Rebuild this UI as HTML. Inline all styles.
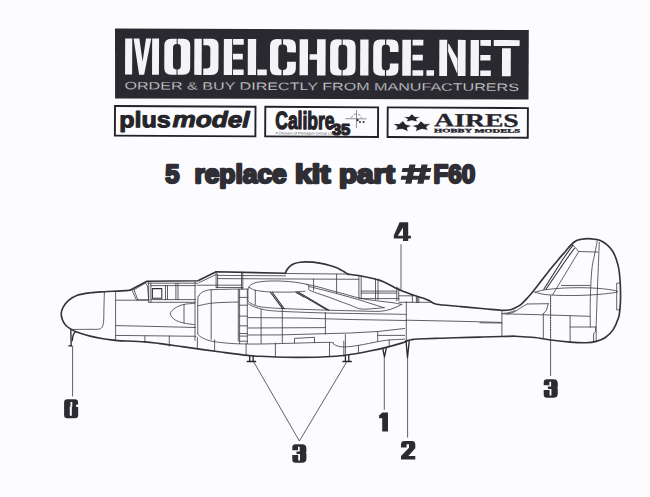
<!DOCTYPE html>
<html><head><meta charset="utf-8">
<style>
html,body{margin:0;padding:0;background:#fcfcfe;}
body{width:650px;height:497px;overflow:hidden;position:relative;font-family:"Liberation Sans",sans-serif;}
svg{position:absolute;left:0;top:0;}
</style></head>
<body>
<svg width="650" height="497" viewBox="0 0 650 497">
<rect x="0" y="0" width="650" height="497" fill="#fcfcfe"/>
<!-- banner -->
<polygon points="115,28.6 528.8,30.1 528.5,99.6 115.1,98.5" fill="#2b2930"/>
<g transform="rotate(0.24 322 57)" fill="#f4f4f7">
  <!-- M -->
  <rect x="125.1" y="39.3" width="7.1" height="36.1"/>
  <polygon points="133.5,39.3 139.3,39.3 142.6,62.5 145.9,39.3 151.2,39.3 144.2,75.4 139.2,75.4"/>
  <rect x="152.1" y="39.3" width="6.9" height="36.1"/>
  <!-- O -->
  <path d="M176.6,39.3 H171.3 Q164.3,39.3 164.3,46.3 V68.4 Q164.3,75.4 171.3,75.4 H176.6 V70 Q173,70 173,66 V48.7 Q173,44.6 176.6,44.6 Z"/>
  <path d="M177.6,39.3 H183.2 Q190.2,39.3 190.2,46.3 V68.4 Q190.2,75.4 183.2,75.4 H177.6 V70 Q180.9,70 180.9,66 V48.7 Q180.9,44.6 177.6,44.6 Z"/>
  <!-- D -->
  <rect x="194.3" y="39.3" width="7.4" height="36.1"/>
  <path d="M203.3,39.3 H211.5 Q218.5,39.3 218.5,46.3 V68.4 Q218.5,75.4 211.5,75.4 H203.3 V69 H207 Q210.3,69 210.3,65.5 V49.2 Q210.3,45.7 207,45.7 H203.3 Z"/>
  <!-- E -->
  <rect x="223.8" y="39.3" width="8.3" height="36.1"/>
  <rect x="233" y="39.3" width="10.7" height="5.7"/>
  <rect x="233" y="54.2" width="9.8" height="5.6"/>
  <rect x="233" y="69.8" width="10.7" height="5.6"/>
  <!-- L -->
  <rect x="247.8" y="39.3" width="8.3" height="36.1"/>
  <rect x="257.3" y="69.8" width="9.5" height="5.6"/>
  <!-- C -->
  <path d="M281.6,39.3 H277 Q270,39.3 270,46.3 V68.4 Q270,75.4 277,75.4 H281.6 V70.1 Q278.3,70.1 278.3,66 V48.7 Q278.3,44.6 281.6,44.6 Z"/>
  <path d="M283,39.3 H288.9 Q295.9,39.3 295.9,46.3 V52.5 H287.1 V48.5 Q287.1,44.6 283,44.6 Z"/>
  <path d="M283,75.4 H288.9 Q295.9,75.4 295.9,68.4 V61.8 H287.1 V66.2 Q287.1,70.1 283,70.1 Z"/>
  <!-- H -->
  <rect x="299.6" y="39.3" width="8.4" height="36.1"/>
  <rect x="309.6" y="54.2" width="8" height="5.6"/>
  <rect x="317" y="39.3" width="8.6" height="36.1"/>
  <!-- O -->
  <path d="M341.6,39.3 H337.1 Q330.1,39.3 330.1,46.3 V68.4 Q330.1,75.4 337.1,75.4 H341.6 V70.1 Q338.4,70.1 338.4,66 V48.7 Q338.4,44.6 341.6,44.6 Z"/>
  <path d="M342.6,39.3 H348.6 Q355.6,39.3 355.6,46.3 V68.4 Q355.6,75.4 348.6,75.4 H342.6 V70.1 Q347.2,70.1 347.2,66 V48.7 Q347.2,44.6 342.6,44.6 Z"/>
  <!-- I -->
  <rect x="360.2" y="39.3" width="8.3" height="36.1"/>
  <!-- C -->
  <path d="M385,39.3 H380.2 Q373.2,39.3 373.2,46.3 V68.4 Q373.2,75.4 380.2,75.4 H385 V70.1 Q381.8,70.1 381.8,66 V48.7 Q381.8,44.6 385,44.6 Z"/>
  <path d="M386.2,39.3 H391.5 Q398.5,39.3 398.5,46.3 V51.8 H389.9 V48.5 Q389.9,44.6 386.2,44.6 Z"/>
  <path d="M386.2,75.4 H391.5 Q398.5,75.4 398.5,68.4 V63.1 H389.9 V66.2 Q389.9,70.1 386.2,70.1 Z"/>
  <!-- E -->
  <rect x="402.3" y="39.3" width="8.6" height="36.1"/>
  <rect x="412.5" y="39.3" width="10.8" height="5.7"/>
  <rect x="412.5" y="54.4" width="10.3" height="5.6"/>
  <rect x="412.5" y="69.8" width="10.8" height="5.6"/>
  <!-- . -->
  <rect x="426.5" y="69.8" width="7.6" height="5.6"/>
  <!-- N -->
  <rect x="439.3" y="39.3" width="7.8" height="36.1"/>
  <polygon points="448.1,43.1 448.8,43.1 457.5,58.5 457.5,72.3 456.8,72.3 448.1,51.3"/>
  <rect x="457.8" y="39.3" width="7.8" height="36.1"/>
  <!-- E -->
  <rect x="470.6" y="39.3" width="8.3" height="36.1"/>
  <rect x="480.3" y="39.3" width="10.6" height="5.9"/>
  <rect x="480.3" y="54.3" width="10.2" height="5.6"/>
  <rect x="480.3" y="69.8" width="10.6" height="5.6"/>
  <!-- T -->
  <rect x="493.7" y="39.3" width="25.9" height="5.9"/>
  <rect x="502" y="47.4" width="8.8" height="28"/>
</g>
<g transform="rotate(0.24 322 57)">
<text x="124.6" y="90.2" font-family="Liberation Sans" font-size="10.8" fill="#eeeef2" stroke="#2b2930" stroke-width="0.3" textLength="394.5" lengthAdjust="spacingAndGlyphs">ORDER &amp; BUY DIRECTLY FROM MANUFACTURERS</text>
</g>

<!-- logo boxes -->
<g transform="rotate(0.3 322 121)">
<g fill="none" stroke="#232127" stroke-width="1.9">
<rect x="114.95" y="107.05" width="140.5" height="29.65"/>
<rect x="265.25" y="107.05" width="112.8" height="29.65"/>
<rect x="387.65" y="107.05" width="140.2" height="29.65"/>
</g>
<g fill="#26242a" stroke="#26242a" stroke-width="1.0" stroke-linejoin="round" font-family="Liberation Sans" font-weight="bold" font-size="22.3">
<text x="119.3" y="128.2" textLength="51.5" lengthAdjust="spacingAndGlyphs">plus</text>
<text x="172.5" y="127.7" font-style="italic" textLength="77" lengthAdjust="spacingAndGlyphs">model</text>
</g>
<g fill="#26242a" stroke="#26242a" stroke-width="1.3" stroke-linejoin="round" font-family="Liberation Sans" font-weight="bold">
<text x="275.4" y="129" font-size="24.5" textLength="59" lengthAdjust="spacingAndGlyphs">Calibre</text>
<text x="332" y="134.6" font-size="15.5" textLength="18.4" lengthAdjust="spacingAndGlyphs">35</text>
</g>
<text x="275.5" y="134.6" font-family="Liberation Sans" font-size="3.6" fill="#55545a" textLength="58" lengthAdjust="spacingAndGlyphs">A Division of Pentagon Group Ltd</text>
<g fill="none" stroke="#4a4950" stroke-width="0.6">
<path d="M351.5,118 A5.2,5.2 0 0 1 361.7,118" stroke-dasharray="3 1.2"/>
<path d="M356.5,110 V128 M345.5,118.6 H366.5"/>
</g>
<g fill="#2a292e"><circle cx="357.6" cy="120" r="1.1"/><circle cx="360" cy="121.8" r="1"/><circle cx="363.6" cy="121.8" r="1"/></g>
<g fill="#26242a" stroke="#fcfcfe" stroke-width="0.9" stroke-linejoin="miter">
<polygon points="403.01,120.13 405.83,123.90 412.90,125.20 407.46,127.33 408.28,131.24 402.10,128.78 395.54,129.90 397.15,126.25 392.28,123.03 399.46,123.23"/>
<polygon points="420.79,120.13 424.34,123.23 431.52,123.03 426.65,126.25 428.26,129.90 421.70,128.78 415.52,131.24 416.34,127.33 410.90,125.20 417.97,123.90"/>
<polygon points="411.90,113.30 414.72,116.04 421.03,116.48 416.47,118.61 417.54,121.62 411.90,120.20 406.26,121.62 407.33,118.61 402.77,116.48 409.08,116.04"/>
</g>
<g fill="#26242a" font-family="Liberation Serif" font-weight="bold">
<text x="434.2" y="125.7" font-size="18.8" stroke="#26242a" stroke-width="0.3" textLength="84.6" lengthAdjust="spacingAndGlyphs">AIRES</text>
<text x="434.2" y="131.6" font-size="5.2" stroke="#26242a" stroke-width="0.35" textLength="86" lengthAdjust="spacingAndGlyphs">HOBBY MODELS</text>
</g>
</g>

<!-- heading -->
<g transform="translate(0,183.3) scale(1,1.05) translate(0,-183.3)" fill="#302e35" stroke="#302e35" stroke-width="2.2" stroke-linejoin="round" font-family="Liberation Sans" font-weight="bold" font-size="24.5">
<text x="165.3" y="183.1" textLength="14.2" lengthAdjust="spacingAndGlyphs">5</text>
<text x="194.4" y="183.1" textLength="92.4" lengthAdjust="spacingAndGlyphs">replace</text>
<text x="294.9" y="183.1" textLength="35.6" lengthAdjust="spacingAndGlyphs">kit</text>
<text x="339" y="183.1" textLength="55.8" lengthAdjust="spacingAndGlyphs">part</text>
<text x="433.5" y="183.1" textLength="41.8" lengthAdjust="spacingAndGlyphs">F60</text>
</g>
<path fill="#302e35" d="M402.6,168 H431.4 L430.5,172 H401.7 Z M401.5,175.8 H430.3 L429.4,179.8 H400.6 Z M409.4,164.6 H415.6 L411.4,183.8 H405.2 Z M421.5,164.6 H427.7 L423.5,183.8 H417.3 Z"/>

<g fill="none" stroke-linecap="round" stroke-linejoin="round">
<g stroke="#39383d" stroke-width="0.8">
<path d="M285.5,273.5 L347.8,274.1"/>
<path d="M104.4,291.8 C104.3,294.8 104.0,305.3 103.9,310.0 C103.8,314.7 103.9,317.3 103.7,320.0 C103.5,322.7 103.3,324.8 102.6,326.3 C101.8,327.8 101.3,328.6 99.2,329.1 C97.1,329.6 94.7,329.2 90.0,329.3 C85.3,329.4 74.1,329.4 70.9,329.4"/>
<path d="M115.6,291.2 V340.4"/>
<path d="M116.0,300.2 H148.7"/>
<path d="M116.0,325.6 L160.0,326.6 L195.5,327.5"/>
<path d="M116.0,335.4 L170.0,336.0 L196.0,336.3"/>
<path d="M144.9,336.0 V341.9"/>
<path d="M169.3,336.1 V346.2"/>
<path d="M132.1,290.4 L136.4,299.8 L148.7,299.8"/>
<path d="M133.9,289.8 L137.6,299.0"/>
<path d="M133.9,289.8 L145.4,283.1 L147.5,285.8 L148.7,299.8"/>
<path d="M148.7,281.3 V302.3"/>
<path d="M150.9,283.0 V302.3"/>
<path d="M148.7,302.3 H195.5"/>
<path d="M150.9,299.6 H195.5"/>
<path d="M147.5,283.2 L197.5,283.2"/>
<path d="M150.9,285.6 L196.0,285.6"/>
<path d="M165.5,285.6 V299.6"/>
<path d="M167.5,285.6 V299.6"/>
<path d="M175.9,283.2 V299.6"/>
<path d="M178.0,283.2 V299.6"/>
<path d="M199.0,282.6 L216.4,274.4"/>
<path d="M216.1,272.0 V287.8"/>
<path d="M217.6,274.0 V287.8"/>
<path d="M217.6,275.4 L285.5,275.8"/>
<path d="M217.6,278.6 L300.0,279.0 L358.8,279.3"/>
<path d="M197.5,285.2 H241.5"/>
<path d="M216.4,287.5 H242.8"/>
<path d="M241.5,272.2 V289.1"/>
<path d="M242.8,272.2 V289.1"/>
<path d="M195.0,281.3 V340.5"/>
<path d="M197.8,333.5 C197.8,327.9 197.6,306.2 197.8,300.0 C198.0,293.8 198.6,297.1 199.0,296.0 C199.4,294.9 199.6,294.4 200.3,293.6 C201.1,292.9 202.4,292.0 203.5,291.5 C204.6,291.0 205.4,290.7 206.7,290.4 C208.0,290.1 208.1,289.9 211.2,289.7 C214.2,289.5 220.5,289.4 225.0,289.3 C229.5,289.2 236.1,289.1 238.3,289.1"/>
<path d="M197.8,333.6 C197.9,333.9 197.7,334.5 198.6,335.3 C199.5,336.1 201.4,337.4 203.5,338.4 C205.6,339.4 208.0,340.4 211.2,341.1 C214.4,341.8 218.4,342.2 222.8,342.7 C227.2,343.1 231.2,343.6 237.4,343.8 C243.6,344.0 251.2,344.1 260.0,344.0 C268.8,343.9 278.4,343.6 290.0,343.3 C301.6,343.0 322.3,342.3 329.5,342.4 C336.7,342.4 331.8,343.0 333.0,343.6 C334.2,344.2 335.1,345.2 337.0,345.8 C338.9,346.4 341.0,347.0 344.6,346.9 C348.2,346.8 352.9,346.3 358.5,345.4 C364.1,344.5 373.4,342.4 378.5,341.5 C383.6,340.6 384.8,340.4 389.2,340.0 C393.6,339.6 402.0,339.3 404.6,339.2"/>
<path d="M197.8,305.8 C200.0,305.4 206.7,303.8 211.2,303.2 C215.7,302.6 220.5,302.6 225.0,302.4 C229.5,302.2 236.1,302.1 238.3,302.0"/>
<path d="M211.2,289.7 V339.3"/>
<path d="M238.3,289.1 V341.0"/>
<path d="M194.3,303.4 C192.5,303.6 186.8,303.7 183.5,304.5 C180.2,305.3 177.0,306.8 174.8,308.3 C172.6,309.8 170.4,311.8 170.4,313.7 C170.4,315.6 172.6,318.1 174.8,319.7 C177.0,321.2 180.2,322.2 183.5,323.0 C186.8,323.8 192.5,324.3 194.3,324.6"/>
<path d="M184.0,304.4 V323.1"/>
<path d="M239.6,289.1 V343.5"/>
<path d="M247.3,289.1 V343.5"/>
<path d="M239.6,289.1 H247.3"/>
<path d="M239.6,297.4 H247.3"/>
<path d="M239.6,305.2 H247.3"/>
<path d="M239.6,316.1 H247.3"/>
<path d="M239.6,325.8 H247.3"/>
<path d="M239.6,333.5 H247.3"/>
<path d="M239.6,336.1 H247.3"/>
<path d="M239.6,341.2 H247.3"/>
<path d="M197.4,337.5 V348.2"/>
<path d="M214.6,339.8 V351.0"/>
<path d="M246.1,343.6 V355.0"/>
<path d="M275.4,343.2 V356.8"/>
<path d="M343.8,341.2 V356.2"/>
<path d="M401.8,304.4 C400.2,304.1 395.6,303.1 392.0,302.6 C388.4,302.1 384.2,301.7 380.0,301.2 C375.8,300.7 371.2,300.2 367.0,299.5 C362.8,298.8 359.0,298.0 355.0,297.0 C351.0,296.0 347.2,294.7 343.0,293.6 C338.8,292.5 334.2,291.3 330.0,290.2 C325.8,289.1 321.9,287.8 318.0,286.8 C314.1,285.8 310.3,285.1 306.5,284.3 C302.7,283.5 299.2,282.7 295.0,282.2 C290.8,281.7 286.0,281.3 281.5,281.1 C277.0,280.9 272.1,280.9 268.0,281.1 C263.9,281.3 259.4,281.8 256.6,282.4 C253.8,283.0 252.4,283.8 251.0,284.8 C249.6,285.8 248.9,287.0 248.4,288.2 C247.9,289.4 248.0,290.5 247.9,292.0 C247.8,293.5 247.9,295.5 248.0,297.0 C248.1,298.5 247.5,300.0 248.2,301.2 C248.9,302.4 250.6,303.3 252.3,304.2 C254.0,305.1 256.4,305.9 258.5,306.4 C260.6,306.9 262.6,307.1 264.6,307.3 C266.7,307.6 268.2,307.7 270.8,307.9 C273.4,308.1 274.5,308.1 280.0,308.4 C285.5,308.6 295.7,309.1 304.0,309.4 C312.3,309.7 320.7,309.9 330.0,310.2 C339.3,310.5 351.8,310.8 360.0,311.0 C368.2,311.2 374.3,311.5 379.0,311.3 C383.7,311.1 385.3,310.6 388.0,310.0 C390.7,309.4 392.7,308.5 395.0,307.6 C397.3,306.7 400.7,304.9 401.8,304.4"/>
<path d="M248.1,303.6 C248.8,304.0 250.6,305.3 252.3,306.1 C254.0,306.9 256.4,307.6 258.5,308.2 C260.6,308.8 262.6,309.4 264.6,309.8 C266.7,310.2 268.2,310.4 270.8,310.7 C273.4,310.9 274.5,311.0 280.0,311.3 C285.5,311.6 295.7,312.0 304.0,312.3 C312.3,312.6 320.7,312.9 330.0,313.1 C339.3,313.3 350.8,313.5 360.0,313.6 C369.2,313.8 377.3,313.9 385.0,314.0 C392.7,314.1 402.5,314.3 406.0,314.4"/>
<path d="M248.8,287.2 C249.3,287.5 250.9,288.5 252.0,289.0 C253.1,289.5 253.3,289.8 255.1,290.2 C256.9,290.6 260.2,291.1 263.0,291.4 C265.8,291.7 267.2,291.9 271.7,292.0 C276.2,292.1 284.4,292.2 290.0,292.1 C295.6,292.0 302.5,291.4 305.0,291.2"/>
<path d="M255.3,290.2 V304.4"/>
<path d="M306.5,284.3 C306.8,284.4 307.9,284.5 308.3,285.0 C308.7,285.5 308.6,286.6 308.8,287.5 C309.0,288.4 307.8,289.2 309.7,290.3 C311.6,291.4 316.6,293.0 320.0,294.2 C323.4,295.4 326.7,296.4 330.0,297.6 C333.3,298.8 336.7,300.2 340.0,301.4 C343.3,302.6 347.3,304.0 350.0,305.0 C352.7,306.0 354.2,306.9 356.0,307.6 C357.8,308.3 359.2,308.8 361.0,309.0 C362.8,309.2 364.7,309.2 367.0,309.1 C369.3,309.0 372.1,308.7 375.0,308.5 C377.9,308.3 382.7,307.8 384.2,307.7"/>
<path d="M308.8,286.4 C312.3,287.3 322.3,289.8 330.0,291.8 C337.7,293.8 348.3,296.7 355.0,298.6 C361.7,300.5 365.1,301.8 370.0,303.3 C374.9,304.8 381.8,307.0 384.2,307.7"/>
<path d="M295.7,292.5 L304.0,297.1"/>
<path d="M261.1,309.5 V343.4"/>
<path d="M282.3,308.8 V343.0"/>
<path d="M325.4,312.6 V334.1"/>
<path d="M248.0,317.6 L300.0,318.0 L350.0,319.5 L406.0,320.5"/>
<path d="M248.0,328.0 L325.4,327.6"/>
<path d="M248.0,335.0 L280.0,334.9 L350.0,333.0 L377.7,331.5 L404.6,328.5"/>
<path d="M294.5,343.0 L294.5,338.4 L314.5,337.3 L314.5,342.7"/>
<path d="M329.5,342.4 V355.8"/>
<path d="M313.6,279.2 V290.4"/>
<path d="M336.6,274.3 V293.6"/>
<path d="M358.9,276.0 V297.6"/>
<path d="M361.2,276.2 V297.8"/>
<path d="M375.5,278.6 V299.4"/>
<path d="M378.0,279.2 V299.4"/>
<path d="M396.8,287.0 V300.8"/>
<path d="M398.8,288.0 V300.8"/>
<path d="M412.4,294.8 V302.3"/>
<path d="M416.4,296.2 V302.3"/>
<path d="M361.2,291.1 H396.8"/>
<path d="M361.2,293.1 H396.8"/>
<path d="M399.0,295.8 H413.6"/>
<path d="M399.0,302.3 H431.0"/>
<path d="M358.9,298.6 H399.0"/>
<path d="M417.3,296.8 V302.7"/>
<path d="M418.8,297.3 V302.7"/>
<path d="M406.3,301.8 V340.0"/>
<path d="M406.3,320.2 L460.0,321.3 L501.2,322.4"/>
<path d="M501.9,310.4 V336.0"/>
<path d="M480.0,322.8 L502.0,323.0"/>
<path d="M377.7,331.5 L377.7,341.5"/>
<path d="M377.7,335.4 L404.6,335.4"/>
<path d="M345.4,334.6 V354.4"/>
<path d="M358.5,345.4 V353.0"/>
<path d="M389.2,340.0 V346.9"/>
<path d="M502.7,313.5 C503.8,313.4 506.9,313.1 509.0,312.6 C511.1,312.1 514.0,310.9 515.0,310.6"/>
<path d="M507.0,314.2 C508.3,313.8 512.5,312.7 515.0,311.5 C517.5,310.3 520.0,308.2 522.0,307.0 C524.0,305.8 526.3,304.5 527.2,304.0"/>
<path d="M527.2,304.0 L548.2,303.7"/>
<path d="M502.0,313.8 L543.3,314.8 L589.7,316.3"/>
<path d="M543.3,313.9 V338.2"/>
<path d="M543.3,313.9 L546.5,310.0 L548.2,303.7"/>
<path d="M570.1,316.0 V342.0"/>
<path d="M570.1,327.0 H595.6"/>
<path d="M595.6,327.0 L595.6,331.6 L593.6,333.5 L593.6,341.4"/>
<path d="M572.9,245.1 L578.8,251.5 L597.7,252.1"/>
<path d="M578.8,251.5 L552.6,294.8"/>
<path d="M597.2,241.3 C596.8,243.6 595.4,250.2 594.5,255.0 C593.6,259.8 592.5,262.5 591.8,270.0 C591.1,277.5 590.5,290.5 590.3,300.0 C590.0,309.5 590.3,322.5 590.3,327.0"/>
<path d="M599.3,242.4 C599.1,247.0 598.6,260.4 598.2,270.0 C597.8,279.6 597.3,290.5 597.0,300.0 C596.7,309.5 596.3,320.1 596.2,327.0 C596.1,333.9 596.2,339.0 596.2,341.4"/>
<path d="M534.9,292.2 C536.6,291.8 540.8,290.4 545.0,289.8 C549.2,289.2 554.2,288.7 560.0,288.3 C565.8,287.9 573.3,287.7 580.0,287.7 C586.7,287.7 593.7,287.9 600.0,288.5 C606.3,289.1 617.8,290.6 617.8,291.6 C617.8,292.6 606.3,293.7 600.0,294.3 C593.7,294.9 586.7,295.2 580.0,295.4 C573.3,295.6 565.8,295.5 560.0,295.4 C554.2,295.2 549.2,295.0 545.0,294.5 C540.8,294.0 536.6,292.6 534.9,292.2"/>
<path d="M561.5,285.5 L590.0,285.4"/>
<path d="M620.4,283.1 H616.7 V309.9 H620.4"/>
</g>
<g stroke="#2e2d32" stroke-width="1.05">
<path d="M152.4,288.6 H161.8 V298.2 H152.4 Z"/>
<path d="M270.4,292.3 L282.6,308.6"/>
<path d="M272.2,292.3 L284.3,308.8"/>
<path d="M296.4,292.1 L326.8,309.9"/>
<path d="M298.5,292.1 L328.8,310.2"/>
<path d="M572.9,245.1 L563.0,259.0 L543.8,289.3"/>
<path d="M574.5,248.3 L564.5,262.0 L546.0,289.3"/>
</g>
<g stroke="#34323a" stroke-width="1.65">
<path d="M114.6,340.3 C112.7,340.0 107.2,339.4 103.1,338.7 C99.0,338.0 94.5,337.2 90.2,336.1 C85.9,335.0 80.5,333.5 77.3,332.3 C74.1,331.1 72.8,330.3 70.9,329.1 C69.0,327.9 67.1,326.7 65.7,325.2 C64.3,323.7 63.2,321.9 62.5,320.0 C61.8,318.1 61.1,315.7 61.2,313.6 C61.3,311.5 62.0,309.4 63.2,307.2 C64.4,305.0 66.0,302.7 68.3,300.7 C70.6,298.7 73.6,296.6 77.3,295.3 C81.0,294.0 85.7,293.4 90.2,292.8 C94.7,292.2 99.8,292.0 104.4,291.7 C109.0,291.4 113.8,291.3 118.0,291.1 C122.2,290.9 127.9,290.4 129.9,290.3"/>
<path d="M129.9,290.3 L147.0,281.2 L198.0,280.8 L216.1,271.8 L285.5,273.2"/>
<path d="M285.3,273.4 C285.6,272.8 286.1,271.2 286.8,270.0 C287.6,268.8 288.5,267.5 289.8,266.4 C291.1,265.3 292.8,264.3 294.5,263.6 C296.2,262.9 298.1,262.5 300.0,262.2 C301.9,261.9 303.8,261.8 306.0,261.8 C308.2,261.8 310.5,261.8 313.0,262.1 C315.5,262.4 318.3,262.9 321.0,263.4 C323.7,263.9 326.5,264.6 329.0,265.3 C331.5,266.0 333.9,266.8 336.0,267.6 C338.1,268.4 339.9,269.4 341.5,270.2 C343.1,271.0 344.4,272.0 345.5,272.6 C346.6,273.2 347.4,273.9 347.8,274.1"/>
<path d="M347.8,274.1 C349.8,274.4 356.0,275.1 360.0,275.8 C364.0,276.5 368.7,277.5 372.0,278.3 C375.3,279.1 377.7,279.6 380.0,280.4 C382.3,281.2 383.6,281.8 386.0,283.0 C388.4,284.2 392.0,286.1 394.5,287.4 C397.0,288.7 398.2,289.5 401.0,290.6 C403.8,291.8 407.8,293.2 411.0,294.3 C414.2,295.4 417.5,296.4 420.0,297.2 C422.5,298.0 424.3,298.5 426.0,299.2 C427.7,299.9 428.6,300.5 430.4,301.3 C432.1,302.1 431.4,303.3 436.5,304.2 C441.6,305.1 453.2,305.8 461.2,306.6 C469.1,307.4 477.5,308.2 484.2,308.8 C490.9,309.4 497.1,310.1 501.2,310.3 C505.3,310.5 506.9,310.3 509.0,310.0 C511.1,309.7 512.1,309.3 514.0,308.4 C515.9,307.5 518.3,306.5 520.5,304.8 C522.7,303.1 525.0,300.5 527.2,298.1 C529.4,295.7 530.1,295.0 533.8,290.4 C537.5,285.8 544.9,275.9 549.3,270.4 C553.7,264.9 557.3,260.8 560.0,257.6 C562.7,254.5 563.6,253.6 565.4,251.5 C567.2,249.4 569.0,246.9 570.8,245.1 C572.6,243.3 574.4,241.8 576.2,240.8 C578.0,239.8 579.5,239.6 581.5,239.2 C583.5,238.8 585.8,238.6 588.0,238.6 C590.2,238.6 592.4,238.8 594.5,239.2 C596.6,239.6 598.8,239.8 600.9,240.8 C603.0,241.8 605.4,243.3 607.4,245.1 C609.4,246.9 611.3,249.0 612.8,251.5 C614.3,254.0 615.6,257.1 616.6,260.2 C617.6,263.3 618.4,266.0 619.0,270.0 C619.6,274.0 620.0,279.3 620.3,284.3 C620.5,289.3 620.6,295.9 620.5,300.2 C620.4,304.5 620.1,307.1 619.8,310.0 C619.5,312.9 619.6,314.5 618.5,317.8 C617.4,321.1 615.4,326.3 613.2,329.6 C611.0,332.9 608.2,335.5 605.4,337.5 C602.6,339.5 599.5,340.5 596.2,341.4 C592.9,342.3 590.1,342.6 585.8,342.7 C581.4,342.8 575.5,342.5 570.1,342.1 C564.7,341.7 558.1,341.0 553.1,340.3 C548.1,339.6 544.4,338.8 540.0,338.2 C535.6,337.6 531.2,337.3 527.0,337.0 C522.8,336.7 519.2,336.3 515.0,336.2 C510.8,336.1 507.3,336.4 501.5,336.5 C495.7,336.6 487.7,336.9 480.0,337.1 C472.3,337.3 462.1,337.6 455.4,337.8 C448.7,338.0 445.1,338.2 440.0,338.3 C434.9,338.4 428.8,338.6 425.0,338.7 C421.2,338.8 419.2,338.9 417.0,339.0 C414.8,339.1 413.6,339.3 412.0,339.6 C410.4,339.9 409.4,340.0 407.7,340.6 C405.9,341.2 405.1,342.0 401.5,343.1 C397.9,344.2 391.3,346.1 386.2,347.4 C381.1,348.7 375.9,349.8 370.8,350.8 C365.7,351.9 361.3,352.8 355.4,353.7 C349.5,354.6 345.2,355.6 335.6,356.2 C326.0,356.8 310.5,357.4 297.9,357.4 C285.3,357.4 268.5,356.6 260.1,356.3 C251.8,356.0 254.4,356.1 247.8,355.4 C241.2,354.7 231.5,353.4 220.8,352.0 C210.1,350.6 193.9,348.3 183.8,346.9 C173.7,345.5 166.6,344.4 160.0,343.6 C153.4,342.8 151.5,342.4 144.5,341.9 C137.5,341.4 123.0,340.9 118.0,340.6 C113.0,340.3 115.2,340.4 114.6,340.3"/>
</g>
<g stroke="#262529" stroke-width="1.3">
<path d="M70.8,329.7 L71.2,345.8"/>
<path d="M68.8,345.8 L71.4,345.8"/>
<path d="M75.4,331.6 C75.0,332.2 73.7,333.5 73.2,335.0 C72.7,336.5 72.4,339.7 72.2,340.6"/>
<path d="M249.7,355.6 L249.7,361.0"/>
<path d="M253.1,355.6 L253.1,361.0"/>
<path d="M247.2,361.5 L255.6,361.5"/>
<path d="M345.4,355.6 L345.4,361.0"/>
<path d="M348.8,355.6 L348.8,361.0"/>
<path d="M342.9,361.5 L351.3,361.5"/>
<path d="M382.8,348.8 L384.5,357.0 L386.2,348.3"/>
<path d="M406.0,340.6 L407.5,357.7 L409.3,340.3"/>
</g>
<g stroke="#3a393e" stroke-width="0.8">
<path d="M72.6,346.0 L72.6,396.0"/>
<path d="M253.9,362.2 L299.4,441.0 L346.9,361.6"/>
<path d="M384.3,357.0 L384.3,409.4"/>
<path d="M407.6,357.7 L407.6,437.2"/>
<path d="M401.0,244.7 L401.0,290.4"/>
<path d="M550.6,340.0 L550.6,375.6"/>
<path d="M550.6,295.8 L550.6,340.0" stroke-dasharray="1.3 1.1" stroke-width="1"/>
</g>
</g>
<g fill="#2d2b32">
<!-- 6 -->
<path fill-rule="evenodd" d="M67.3,399.2 H74.8 Q78.1,399.2 78.1,402.4 V404.3 L75.9,405.1 V406.5 L78.2,407.3 V415 Q78.2,418.2 75,418.2 H67.3 Q64.1,418.2 64.1,415 V402.4 Q64.1,399.2 67.3,399.2 Z M70.5,402 H72.3 V406.4 H71.8 V415.7 H69.8 V406.4 H70.5 Z"/>
<!-- 3 bottom -->
<path d="M295.6,444.2 H302 Q306.4,444.2 306.4,448.6 V451.5 L305.9,452.6 L306.4,453.7 V458.4 Q306.4,462.8 302,462.8 H295.6 Q292.3,462.8 292.3,459.5 V455 H298.2 V460.4 H300 V454 H296.5 V451.4 H299.7 V446.8 H298 V450.2 H292.3 V447.5 Q292.3,444.2 295.6,444.2 Z"/>
<!-- 3 tail -->
<path transform="translate(251.4,-65)" d="M295.6,444.2 H302 Q306.4,444.2 306.4,448.6 V451.5 L305.9,452.6 L306.4,453.7 V458.4 Q306.4,462.8 302,462.8 H295.6 Q292.3,462.8 292.3,459.5 V455 H298.2 V460.4 H300 V454 H296.5 V451.4 H299.7 V446.8 H298 V450.2 H292.3 V447.5 Q292.3,444.2 295.6,444.2 Z"/>
<!-- 1 -->
<path d="M382.2,412.4 H388 V431.6 H382.2 V418.3 H379.1 V415.2 Q381,414.2 382.2,412.4 Z"/>
<!-- 2 -->
<path d="M401,447.6 V444.4 Q401,441 404.4,441 H411.9 Q415.3,441 415.3,444.4 V448.2 L408.3,456 H415.3 V459.6 H401 V456 L409,447.8 V444.3 H406.6 V447.6 Z"/>
<!-- 4 -->
<path fill-rule="evenodd" d="M399.6,222.2 H408.2 V235.8 H410.9 V238.6 H408.2 V241 H403 V238.6 H393.8 V235.6 Z M403,227.6 V235.8 H397.8 Z"/>
</g>

</svg>
</body></html>
